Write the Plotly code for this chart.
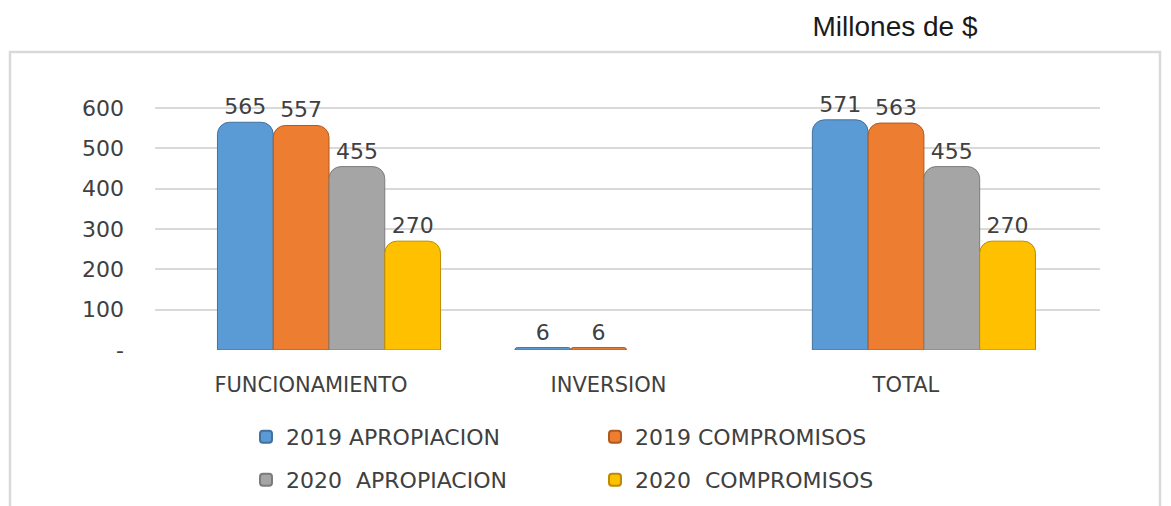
import plotly.graph_objects as go

categories = ["FUNCIONAMIENTO", "INVERSION", "TOTAL"]
series_names = ["2019 APROPIACION", "2019 COMPROMISOS", "2020  APROPIACION", "2020  COMPROMISOS"]
apropiacion_2019 = [565, 6, 571]
compromisos_2019 = [557, 6, 563]
apropiacion_2020 = [455, None, 455]
compromisos_2020 = [270, None, 270]
series_values = [apropiacion_2019, compromisos_2019, apropiacion_2020, compromisos_2020]
colors = ["#5B9BD5", "#ED7D31", "#A5A5A5", "#FFC000"]
line_colors = ["#41719C", "#AE5A21", "#7C7C7C", "#BC8C00"]
tick_vals = [0, 100, 200, 300, 400, 500, 600]
tick_text = ["-", "100", "200", "300", "400", "500", "600"]

FONT = "DejaVu Sans"
TXT = "#404040"

fig = go.Figure()
for i, (name, vals) in enumerate(zip(series_names, series_values)):
    fig.add_trace(go.Bar(
        x=categories, y=vals, name=name,
        marker=dict(color=colors[i], line=dict(color=line_colors[i], width=1), cornerradius=12),
        text=[("" if v is None else str(v)) for v in vals],
        textposition="outside", cliponaxis=False,
        textfont=dict(family=FONT, size=22, color=TXT),
        legend="legend" if i < 2 else "legend2",
    ))

# page body has an 8px default margin: work in screen pixels, convert to figure pixels
OFF = 8
W, H = 1171 - OFF, 506 - OFF
SL, SR, ST, SB = 155, 1100, 88, 350  # plot area in screen pixels
L, R, T, B = SL - OFF, W - (SR - OFF), ST - OFF, H - (SB - OFF)
pw = W - L - R
ph = H - T - B

def px_x(sx):
    return (sx - OFF - L) / pw

def px_y(sy):
    return (H - B - (sy - OFF)) / ph

legend_common = dict(orientation="h", x=px_x(246), xanchor="left", yanchor="middle",
                     entrywidth=304, itemsizing="constant",
                     font=dict(family=FONT, size=22, color=TXT), bgcolor="rgba(0,0,0,0)")

fig.update_layout(
    width=W, height=H,
    margin=dict(l=L, r=R, t=T, b=B, autoexpand=False),
    paper_bgcolor="white", plot_bgcolor="white",
    barmode="group", bargap=0.25, bargroupgap=0.0,
    font=dict(family=FONT, color=TXT),
    title=dict(text="Millones de $", x=(895 - OFF) / W, xanchor="center",
               y=1 - (26 - OFF) / H, yanchor="middle",
               font=dict(family="Liberation Sans", size=28, color="#1a1a1a")),
    xaxis=dict(range=[-0.585, 2.592], showgrid=False, zeroline=False, showline=False,
               ticks="", tickfont=dict(family=FONT, size=21, color=TXT),
               ticklabelstandoff=20, ticklabelshift=-18, automargin=False),
    yaxis=dict(range=[0, 650], tickvals=tick_vals, ticktext=tick_text, showgrid=True,
               gridcolor="#d9d9d9", gridwidth=1.5, zeroline=False, showline=False,
               ticks="", tickfont=dict(family=FONT, size=22, color=TXT), ticklabelstandoff=30,
               automargin=False),
    legend=dict(legend_common, y=px_y(437)),
    legend2=dict(legend_common, y=px_y(480)),
    shapes=[dict(type="rect", xref="paper", yref="paper",
                 x0=px_x(10), x1=px_x(1160), y0=px_y(512), y1=px_y(52),
                 line=dict(color="#d9d9d9", width=2.5), fillcolor="rgba(0,0,0,0)", layer="below")],
)

fig.write_html("out.html")
